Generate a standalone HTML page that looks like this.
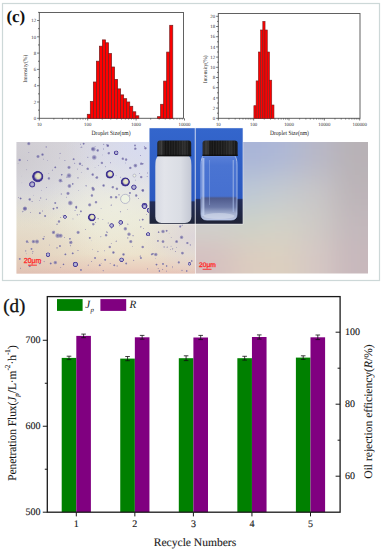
<!DOCTYPE html>
<html><head><meta charset="utf-8"><style>
html,body{margin:0;padding:0;background:#fff;}
body{width:383px;height:550px;overflow:hidden;font-family:"Liberation Serif",serif;}
svg{display:block;position:absolute;left:0;top:0;}
text{text-rendering:geometricPrecision;}
</style></head><body>
<svg width="383" height="550" viewBox="0 0 383 550">
<rect x="2.5" y="3.5" width="377" height="277" fill="none" stroke="#cdd8d8" stroke-width="1.2"/>
<text x="6.4" y="21.9" font-family="Liberation Serif" font-weight="bold" font-size="17" fill="#111">(c)</text>
<rect x="39.3" y="12.5" width="144.2" height="105.8" fill="none" stroke="#5a5a5a" stroke-width="0.95"/>
<rect x="87.3" y="114.3" width="3.03" height="4" fill="#ff0000" stroke="#7a2020" stroke-width="0.75"/>
<rect x="90.33" y="101.5" width="3.03" height="16.8" fill="#ff0000" stroke="#7a2020" stroke-width="0.75"/>
<rect x="93.36" y="82" width="3.03" height="36.3" fill="#ff0000" stroke="#7a2020" stroke-width="0.75"/>
<rect x="96.39" y="61.2" width="3.03" height="57.1" fill="#ff0000" stroke="#7a2020" stroke-width="0.75"/>
<rect x="99.42" y="46.2" width="3.03" height="72.1" fill="#ff0000" stroke="#7a2020" stroke-width="0.75"/>
<rect x="102.45" y="39.9" width="3.03" height="78.4" fill="#ff0000" stroke="#7a2020" stroke-width="0.75"/>
<rect x="105.48" y="42.8" width="3.03" height="75.5" fill="#ff0000" stroke="#7a2020" stroke-width="0.75"/>
<rect x="108.51" y="53.6" width="3.03" height="64.7" fill="#ff0000" stroke="#7a2020" stroke-width="0.75"/>
<rect x="111.54" y="67" width="3.03" height="51.3" fill="#ff0000" stroke="#7a2020" stroke-width="0.75"/>
<rect x="114.57" y="79.4" width="3.03" height="38.9" fill="#ff0000" stroke="#7a2020" stroke-width="0.75"/>
<rect x="117.6" y="88.9" width="3.03" height="29.4" fill="#ff0000" stroke="#7a2020" stroke-width="0.75"/>
<rect x="120.63" y="94.9" width="3.03" height="23.4" fill="#ff0000" stroke="#7a2020" stroke-width="0.75"/>
<rect x="123.66" y="98.7" width="3.03" height="19.6" fill="#ff0000" stroke="#7a2020" stroke-width="0.75"/>
<rect x="126.69" y="102" width="3.03" height="16.3" fill="#ff0000" stroke="#7a2020" stroke-width="0.75"/>
<rect x="129.72" y="106.3" width="3.03" height="12" fill="#ff0000" stroke="#7a2020" stroke-width="0.75"/>
<rect x="132.75" y="111.8" width="3.03" height="6.5" fill="#ff0000" stroke="#7a2020" stroke-width="0.75"/>
<rect x="135.78" y="115.8" width="3.03" height="2.5" fill="#ff0000" stroke="#7a2020" stroke-width="0.75"/>
<rect x="157.6" y="116.7" width="3.03" height="1.6" fill="#ff0000" stroke="#7a2020" stroke-width="0.75"/>
<rect x="160.63" y="104.3" width="3.03" height="14" fill="#ff0000" stroke="#7a2020" stroke-width="0.75"/>
<rect x="163.66" y="81.1" width="3.03" height="37.2" fill="#ff0000" stroke="#7a2020" stroke-width="0.75"/>
<rect x="166.69" y="52.1" width="3.03" height="66.2" fill="#ff0000" stroke="#7a2020" stroke-width="0.75"/>
<rect x="169.72" y="25.3" width="3.03" height="93" fill="#ff0000" stroke="#7a2020" stroke-width="0.75"/>
<line x1="37.1" y1="118.3" x2="39.3" y2="118.3" stroke="#3a3a3a" stroke-width="0.7"/>
<text x="36.1" y="120" font-family="Liberation Serif" font-size="4.8" text-anchor="end" fill="#333">0</text>
<line x1="38" y1="110.15" x2="39.3" y2="110.15" stroke="#3a3a3a" stroke-width="0.7"/>
<line x1="37.1" y1="102" x2="39.3" y2="102" stroke="#3a3a3a" stroke-width="0.7"/>
<text x="36.1" y="103.7" font-family="Liberation Serif" font-size="4.8" text-anchor="end" fill="#333">2</text>
<line x1="38" y1="93.85" x2="39.3" y2="93.85" stroke="#3a3a3a" stroke-width="0.7"/>
<line x1="37.1" y1="85.7" x2="39.3" y2="85.7" stroke="#3a3a3a" stroke-width="0.7"/>
<text x="36.1" y="87.4" font-family="Liberation Serif" font-size="4.8" text-anchor="end" fill="#333">4</text>
<line x1="38" y1="77.55" x2="39.3" y2="77.55" stroke="#3a3a3a" stroke-width="0.7"/>
<line x1="37.1" y1="69.4" x2="39.3" y2="69.4" stroke="#3a3a3a" stroke-width="0.7"/>
<text x="36.1" y="71.1" font-family="Liberation Serif" font-size="4.8" text-anchor="end" fill="#333">6</text>
<line x1="38" y1="61.25" x2="39.3" y2="61.25" stroke="#3a3a3a" stroke-width="0.7"/>
<line x1="37.1" y1="53.1" x2="39.3" y2="53.1" stroke="#3a3a3a" stroke-width="0.7"/>
<text x="36.1" y="54.8" font-family="Liberation Serif" font-size="4.8" text-anchor="end" fill="#333">8</text>
<line x1="38" y1="44.95" x2="39.3" y2="44.95" stroke="#3a3a3a" stroke-width="0.7"/>
<line x1="37.1" y1="36.8" x2="39.3" y2="36.8" stroke="#3a3a3a" stroke-width="0.7"/>
<text x="36.1" y="38.5" font-family="Liberation Serif" font-size="4.8" text-anchor="end" fill="#333">10</text>
<line x1="38" y1="28.65" x2="39.3" y2="28.65" stroke="#3a3a3a" stroke-width="0.7"/>
<line x1="37.1" y1="20.5" x2="39.3" y2="20.5" stroke="#3a3a3a" stroke-width="0.7"/>
<text x="36.1" y="22.2" font-family="Liberation Serif" font-size="4.8" text-anchor="end" fill="#333">12</text>
<line x1="38" y1="12.35" x2="39.3" y2="12.35" stroke="#3a3a3a" stroke-width="0.7"/>
<line x1="39.3" y1="118.3" x2="39.3" y2="120.5" stroke="#3a3a3a" stroke-width="0.7"/>
<text x="39.3" y="125.5" font-family="Liberation Serif" font-size="4.8" text-anchor="middle" fill="#333">10</text>
<line x1="53.87" y1="118.3" x2="53.87" y2="119.6" stroke="#3a3a3a" stroke-width="0.6"/>
<line x1="62.39" y1="118.3" x2="62.39" y2="119.6" stroke="#3a3a3a" stroke-width="0.6"/>
<line x1="68.44" y1="118.3" x2="68.44" y2="119.6" stroke="#3a3a3a" stroke-width="0.6"/>
<line x1="73.13" y1="118.3" x2="73.13" y2="119.6" stroke="#3a3a3a" stroke-width="0.6"/>
<line x1="76.96" y1="118.3" x2="76.96" y2="119.6" stroke="#3a3a3a" stroke-width="0.6"/>
<line x1="80.2" y1="118.3" x2="80.2" y2="119.6" stroke="#3a3a3a" stroke-width="0.6"/>
<line x1="83.01" y1="118.3" x2="83.01" y2="119.6" stroke="#3a3a3a" stroke-width="0.6"/>
<line x1="85.49" y1="118.3" x2="85.49" y2="119.6" stroke="#3a3a3a" stroke-width="0.6"/>
<line x1="87.7" y1="118.3" x2="87.7" y2="120.5" stroke="#3a3a3a" stroke-width="0.7"/>
<text x="87.7" y="125.5" font-family="Liberation Serif" font-size="4.8" text-anchor="middle" fill="#333">100</text>
<line x1="102.27" y1="118.3" x2="102.27" y2="119.6" stroke="#3a3a3a" stroke-width="0.6"/>
<line x1="110.79" y1="118.3" x2="110.79" y2="119.6" stroke="#3a3a3a" stroke-width="0.6"/>
<line x1="116.84" y1="118.3" x2="116.84" y2="119.6" stroke="#3a3a3a" stroke-width="0.6"/>
<line x1="121.53" y1="118.3" x2="121.53" y2="119.6" stroke="#3a3a3a" stroke-width="0.6"/>
<line x1="125.36" y1="118.3" x2="125.36" y2="119.6" stroke="#3a3a3a" stroke-width="0.6"/>
<line x1="128.6" y1="118.3" x2="128.6" y2="119.6" stroke="#3a3a3a" stroke-width="0.6"/>
<line x1="131.41" y1="118.3" x2="131.41" y2="119.6" stroke="#3a3a3a" stroke-width="0.6"/>
<line x1="133.89" y1="118.3" x2="133.89" y2="119.6" stroke="#3a3a3a" stroke-width="0.6"/>
<line x1="136.1" y1="118.3" x2="136.1" y2="120.5" stroke="#3a3a3a" stroke-width="0.7"/>
<text x="136.1" y="125.5" font-family="Liberation Serif" font-size="4.8" text-anchor="middle" fill="#333">1000</text>
<line x1="150.67" y1="118.3" x2="150.67" y2="119.6" stroke="#3a3a3a" stroke-width="0.6"/>
<line x1="159.19" y1="118.3" x2="159.19" y2="119.6" stroke="#3a3a3a" stroke-width="0.6"/>
<line x1="165.24" y1="118.3" x2="165.24" y2="119.6" stroke="#3a3a3a" stroke-width="0.6"/>
<line x1="169.93" y1="118.3" x2="169.93" y2="119.6" stroke="#3a3a3a" stroke-width="0.6"/>
<line x1="173.76" y1="118.3" x2="173.76" y2="119.6" stroke="#3a3a3a" stroke-width="0.6"/>
<line x1="177" y1="118.3" x2="177" y2="119.6" stroke="#3a3a3a" stroke-width="0.6"/>
<line x1="179.81" y1="118.3" x2="179.81" y2="119.6" stroke="#3a3a3a" stroke-width="0.6"/>
<line x1="182.29" y1="118.3" x2="182.29" y2="119.6" stroke="#3a3a3a" stroke-width="0.6"/>
<line x1="184.5" y1="118.3" x2="184.5" y2="120.5" stroke="#3a3a3a" stroke-width="0.7"/>
<text x="184.5" y="125.5" font-family="Liberation Serif" font-size="4.8" text-anchor="middle" fill="#333">10000</text>
<text transform="translate(27.4,68.7) rotate(-90)" textLength="28" lengthAdjust="spacingAndGlyphs" font-family="Liberation Serif" font-size="5.6" text-anchor="middle" fill="#2a2a2a">Intensity(%)</text>
<text x="111" y="134.5" textLength="39" lengthAdjust="spacingAndGlyphs" font-family="Liberation Serif" font-size="6.4" text-anchor="middle" fill="#1a1a1a">Droplet Size(nm)</text>
<rect x="218.3" y="13.5" width="141.7" height="104.8" fill="none" stroke="#5a5a5a" stroke-width="0.95"/>
<rect x="253.9" y="105.7" width="2.23" height="12.6" fill="#ff0000" stroke="#7a2020" stroke-width="0.6"/>
<rect x="256.13" y="80.9" width="2.23" height="37.4" fill="#ff0000" stroke="#7a2020" stroke-width="0.6"/>
<rect x="258.36" y="52" width="2.23" height="66.3" fill="#ff0000" stroke="#7a2020" stroke-width="0.6"/>
<rect x="260.59" y="30" width="2.23" height="88.3" fill="#ff0000" stroke="#7a2020" stroke-width="0.6"/>
<rect x="262.82" y="21.4" width="2.23" height="96.9" fill="#ff0000" stroke="#7a2020" stroke-width="0.6"/>
<rect x="265.05" y="30" width="2.23" height="88.3" fill="#ff0000" stroke="#7a2020" stroke-width="0.6"/>
<rect x="267.28" y="52" width="2.23" height="66.3" fill="#ff0000" stroke="#7a2020" stroke-width="0.6"/>
<rect x="269.51" y="80.2" width="2.23" height="38.1" fill="#ff0000" stroke="#7a2020" stroke-width="0.6"/>
<rect x="271.74" y="105" width="2.23" height="13.3" fill="#ff0000" stroke="#7a2020" stroke-width="0.6"/>
<line x1="216.1" y1="118.3" x2="218.3" y2="118.3" stroke="#3a3a3a" stroke-width="0.7"/>
<text x="215.1" y="120" font-family="Liberation Serif" font-size="4.8" text-anchor="end" fill="#333">0</text>
<line x1="217" y1="113.2" x2="218.3" y2="113.2" stroke="#3a3a3a" stroke-width="0.7"/>
<line x1="216.1" y1="108.1" x2="218.3" y2="108.1" stroke="#3a3a3a" stroke-width="0.7"/>
<text x="215.1" y="109.8" font-family="Liberation Serif" font-size="4.8" text-anchor="end" fill="#333">2</text>
<line x1="217" y1="103" x2="218.3" y2="103" stroke="#3a3a3a" stroke-width="0.7"/>
<line x1="216.1" y1="97.9" x2="218.3" y2="97.9" stroke="#3a3a3a" stroke-width="0.7"/>
<text x="215.1" y="99.6" font-family="Liberation Serif" font-size="4.8" text-anchor="end" fill="#333">4</text>
<line x1="217" y1="92.8" x2="218.3" y2="92.8" stroke="#3a3a3a" stroke-width="0.7"/>
<line x1="216.1" y1="87.7" x2="218.3" y2="87.7" stroke="#3a3a3a" stroke-width="0.7"/>
<text x="215.1" y="89.4" font-family="Liberation Serif" font-size="4.8" text-anchor="end" fill="#333">6</text>
<line x1="217" y1="82.6" x2="218.3" y2="82.6" stroke="#3a3a3a" stroke-width="0.7"/>
<line x1="216.1" y1="77.5" x2="218.3" y2="77.5" stroke="#3a3a3a" stroke-width="0.7"/>
<text x="215.1" y="79.2" font-family="Liberation Serif" font-size="4.8" text-anchor="end" fill="#333">8</text>
<line x1="217" y1="72.4" x2="218.3" y2="72.4" stroke="#3a3a3a" stroke-width="0.7"/>
<line x1="216.1" y1="67.3" x2="218.3" y2="67.3" stroke="#3a3a3a" stroke-width="0.7"/>
<text x="215.1" y="69" font-family="Liberation Serif" font-size="4.8" text-anchor="end" fill="#333">10</text>
<line x1="217" y1="62.2" x2="218.3" y2="62.2" stroke="#3a3a3a" stroke-width="0.7"/>
<line x1="216.1" y1="57.1" x2="218.3" y2="57.1" stroke="#3a3a3a" stroke-width="0.7"/>
<text x="215.1" y="58.8" font-family="Liberation Serif" font-size="4.8" text-anchor="end" fill="#333">12</text>
<line x1="217" y1="52" x2="218.3" y2="52" stroke="#3a3a3a" stroke-width="0.7"/>
<line x1="216.1" y1="46.9" x2="218.3" y2="46.9" stroke="#3a3a3a" stroke-width="0.7"/>
<text x="215.1" y="48.6" font-family="Liberation Serif" font-size="4.8" text-anchor="end" fill="#333">14</text>
<line x1="217" y1="41.8" x2="218.3" y2="41.8" stroke="#3a3a3a" stroke-width="0.7"/>
<line x1="216.1" y1="36.7" x2="218.3" y2="36.7" stroke="#3a3a3a" stroke-width="0.7"/>
<text x="215.1" y="38.4" font-family="Liberation Serif" font-size="4.8" text-anchor="end" fill="#333">16</text>
<line x1="217" y1="31.6" x2="218.3" y2="31.6" stroke="#3a3a3a" stroke-width="0.7"/>
<line x1="216.1" y1="26.5" x2="218.3" y2="26.5" stroke="#3a3a3a" stroke-width="0.7"/>
<text x="215.1" y="28.2" font-family="Liberation Serif" font-size="4.8" text-anchor="end" fill="#333">18</text>
<line x1="217" y1="21.4" x2="218.3" y2="21.4" stroke="#3a3a3a" stroke-width="0.7"/>
<line x1="216.1" y1="16.3" x2="218.3" y2="16.3" stroke="#3a3a3a" stroke-width="0.7"/>
<text x="215.1" y="18" font-family="Liberation Serif" font-size="4.8" text-anchor="end" fill="#333">20</text>
<line x1="218.3" y1="118.3" x2="218.3" y2="120.5" stroke="#3a3a3a" stroke-width="0.7"/>
<text x="218.3" y="125.5" font-family="Liberation Serif" font-size="4.8" text-anchor="middle" fill="#333">10</text>
<line x1="228.94" y1="118.3" x2="228.94" y2="119.6" stroke="#3a3a3a" stroke-width="0.6"/>
<line x1="235.17" y1="118.3" x2="235.17" y2="119.6" stroke="#3a3a3a" stroke-width="0.6"/>
<line x1="239.58" y1="118.3" x2="239.58" y2="119.6" stroke="#3a3a3a" stroke-width="0.6"/>
<line x1="243.01" y1="118.3" x2="243.01" y2="119.6" stroke="#3a3a3a" stroke-width="0.6"/>
<line x1="245.81" y1="118.3" x2="245.81" y2="119.6" stroke="#3a3a3a" stroke-width="0.6"/>
<line x1="248.17" y1="118.3" x2="248.17" y2="119.6" stroke="#3a3a3a" stroke-width="0.6"/>
<line x1="250.22" y1="118.3" x2="250.22" y2="119.6" stroke="#3a3a3a" stroke-width="0.6"/>
<line x1="252.03" y1="118.3" x2="252.03" y2="119.6" stroke="#3a3a3a" stroke-width="0.6"/>
<line x1="253.65" y1="118.3" x2="253.65" y2="120.5" stroke="#3a3a3a" stroke-width="0.7"/>
<text x="253.65" y="125.5" font-family="Liberation Serif" font-size="4.8" text-anchor="middle" fill="#333">100</text>
<line x1="264.29" y1="118.3" x2="264.29" y2="119.6" stroke="#3a3a3a" stroke-width="0.6"/>
<line x1="270.52" y1="118.3" x2="270.52" y2="119.6" stroke="#3a3a3a" stroke-width="0.6"/>
<line x1="274.93" y1="118.3" x2="274.93" y2="119.6" stroke="#3a3a3a" stroke-width="0.6"/>
<line x1="278.36" y1="118.3" x2="278.36" y2="119.6" stroke="#3a3a3a" stroke-width="0.6"/>
<line x1="281.16" y1="118.3" x2="281.16" y2="119.6" stroke="#3a3a3a" stroke-width="0.6"/>
<line x1="283.52" y1="118.3" x2="283.52" y2="119.6" stroke="#3a3a3a" stroke-width="0.6"/>
<line x1="285.57" y1="118.3" x2="285.57" y2="119.6" stroke="#3a3a3a" stroke-width="0.6"/>
<line x1="287.38" y1="118.3" x2="287.38" y2="119.6" stroke="#3a3a3a" stroke-width="0.6"/>
<line x1="289" y1="118.3" x2="289" y2="120.5" stroke="#3a3a3a" stroke-width="0.7"/>
<text x="289" y="125.5" font-family="Liberation Serif" font-size="4.8" text-anchor="middle" fill="#333">1000</text>
<line x1="299.64" y1="118.3" x2="299.64" y2="119.6" stroke="#3a3a3a" stroke-width="0.6"/>
<line x1="305.87" y1="118.3" x2="305.87" y2="119.6" stroke="#3a3a3a" stroke-width="0.6"/>
<line x1="310.28" y1="118.3" x2="310.28" y2="119.6" stroke="#3a3a3a" stroke-width="0.6"/>
<line x1="313.71" y1="118.3" x2="313.71" y2="119.6" stroke="#3a3a3a" stroke-width="0.6"/>
<line x1="316.51" y1="118.3" x2="316.51" y2="119.6" stroke="#3a3a3a" stroke-width="0.6"/>
<line x1="318.87" y1="118.3" x2="318.87" y2="119.6" stroke="#3a3a3a" stroke-width="0.6"/>
<line x1="320.92" y1="118.3" x2="320.92" y2="119.6" stroke="#3a3a3a" stroke-width="0.6"/>
<line x1="322.73" y1="118.3" x2="322.73" y2="119.6" stroke="#3a3a3a" stroke-width="0.6"/>
<line x1="324.35" y1="118.3" x2="324.35" y2="120.5" stroke="#3a3a3a" stroke-width="0.7"/>
<text x="324.35" y="125.5" font-family="Liberation Serif" font-size="4.8" text-anchor="middle" fill="#333">10000</text>
<line x1="334.99" y1="118.3" x2="334.99" y2="119.6" stroke="#3a3a3a" stroke-width="0.6"/>
<line x1="341.22" y1="118.3" x2="341.22" y2="119.6" stroke="#3a3a3a" stroke-width="0.6"/>
<line x1="345.63" y1="118.3" x2="345.63" y2="119.6" stroke="#3a3a3a" stroke-width="0.6"/>
<line x1="349.06" y1="118.3" x2="349.06" y2="119.6" stroke="#3a3a3a" stroke-width="0.6"/>
<line x1="351.86" y1="118.3" x2="351.86" y2="119.6" stroke="#3a3a3a" stroke-width="0.6"/>
<line x1="354.22" y1="118.3" x2="354.22" y2="119.6" stroke="#3a3a3a" stroke-width="0.6"/>
<line x1="356.27" y1="118.3" x2="356.27" y2="119.6" stroke="#3a3a3a" stroke-width="0.6"/>
<line x1="358.08" y1="118.3" x2="358.08" y2="119.6" stroke="#3a3a3a" stroke-width="0.6"/>
<line x1="359.7" y1="118.3" x2="359.7" y2="120.5" stroke="#3a3a3a" stroke-width="0.7"/>
<text x="359.7" y="125.5" font-family="Liberation Serif" font-size="4.8" text-anchor="middle" fill="#333">100000</text>
<text transform="translate(207,69.3) rotate(-90)" textLength="28" lengthAdjust="spacingAndGlyphs" font-family="Liberation Serif" font-size="5.6" text-anchor="middle" fill="#2a2a2a">Intensity(%)</text>
<text x="289.4" y="134.5" textLength="39" lengthAdjust="spacingAndGlyphs" font-family="Liberation Serif" font-size="6.4" text-anchor="middle" fill="#1a1a1a">Droplet Size(nm)</text>
<defs>
<linearGradient id="lgL" x1="0" y1="0" x2="0" y2="1">
<stop offset="0" stop-color="#dad8de"/><stop offset="0.35" stop-color="#e0e0e4"/><stop offset="0.6" stop-color="#e9e7d6"/><stop offset="0.85" stop-color="#ece2cc"/><stop offset="0.96" stop-color="#eacfbe"/><stop offset="1" stop-color="#e6c4b8"/></linearGradient>
<radialGradient id="lgL5" cx="0.72" cy="0" r="0.45"><stop offset="0" stop-color="#d6dcf6" stop-opacity="0.8"/><stop offset="1" stop-color="#d6dcf6" stop-opacity="0"/></radialGradient>
<radialGradient id="lgL6" cx="1" cy="0.72" r="0.3"><stop offset="0" stop-color="#d8d0dc" stop-opacity="0.75"/><stop offset="1" stop-color="#d8d0dc" stop-opacity="0"/></radialGradient>
<radialGradient id="md" cx="0.5" cy="0.5" r="0.5"><stop offset="0" stop-color="#c4c4d8"/><stop offset="0.45" stop-color="#a4a2cc"/><stop offset="0.7" stop-color="#463a94"/><stop offset="0.88" stop-color="#5448a0" stop-opacity="0.7"/><stop offset="1" stop-color="#6a66b0" stop-opacity="0"/></radialGradient>
<radialGradient id="lgL2" cx="0" cy="0.15" r="0.5"><stop offset="0" stop-color="#c2bec4" stop-opacity="0.55"/><stop offset="1" stop-color="#c2bec4" stop-opacity="0"/></radialGradient>
<radialGradient id="lgL3" cx="0.0" cy="0.9" r="0.5"><stop offset="0" stop-color="#d8bcac" stop-opacity="0.45"/><stop offset="1" stop-color="#d0b8ac" stop-opacity="0"/></radialGradient>
<radialGradient id="lgL4" cx="0.55" cy="0.5" r="0.4"><stop offset="0" stop-color="#f0f0e0" stop-opacity="0.7"/><stop offset="1" stop-color="#f0f0e0" stop-opacity="0"/></radialGradient>
<linearGradient id="lgR" x1="0" y1="0" x2="0" y2="1">
<stop offset="0" stop-color="#aeb6d2"/><stop offset="0.35" stop-color="#c2c8d2"/><stop offset="0.65" stop-color="#cccec8"/><stop offset="1" stop-color="#d8c4b8"/></linearGradient>
<linearGradient id="lgR2" x1="0" y1="0" x2="1" y2="0">
<stop offset="0" stop-color="#ffffff" stop-opacity="0"/><stop offset="0.45" stop-color="#ffffff" stop-opacity="0"/><stop offset="1" stop-color="#b6a8ac" stop-opacity="0.8"/></linearGradient>
<radialGradient id="lgR3" cx="0.3" cy="0.55" r="0.4"><stop offset="0" stop-color="#d4dad0" stop-opacity="0.6"/><stop offset="1" stop-color="#d4dad0" stop-opacity="0"/></radialGradient>
<radialGradient id="sd" cx="0.5" cy="0.5" r="0.5"><stop offset="0" stop-color="#5c5298" stop-opacity="0.85"/><stop offset="0.6" stop-color="#7c78ae" stop-opacity="0.6"/><stop offset="1" stop-color="#9490ba" stop-opacity="0"/></radialGradient>
<radialGradient id="bd" cx="0.5" cy="0.5" r="0.5" fx="0.58" fy="0.42"><stop offset="0" stop-color="#ecead0"/><stop offset="0.45" stop-color="#dedcb8"/><stop offset="0.58" stop-color="#8a7eb8"/><stop offset="0.74" stop-color="#33287e"/><stop offset="0.9" stop-color="#4a3e9c"/><stop offset="1" stop-color="#5a54a8" stop-opacity="0.3"/></radialGradient>
<linearGradient id="blueL" x1="0" y1="0" x2="0" y2="1"><stop offset="0" stop-color="#3466cc"/><stop offset="0.755" stop-color="#2a58c0"/><stop offset="0.772" stop-color="#222c58"/><stop offset="1" stop-color="#1e2438"/></linearGradient>
<linearGradient id="blueR" x1="0" y1="0" x2="0" y2="1"><stop offset="0" stop-color="#3466cc"/><stop offset="0.733" stop-color="#2a58c0"/><stop offset="0.748" stop-color="#222c58"/><stop offset="1" stop-color="#1e2236"/></linearGradient>
<linearGradient id="milk" x1="0" y1="0" x2="1" y2="0"><stop offset="0" stop-color="#d6d9e2"/><stop offset="0.25" stop-color="#e2e4ea"/><stop offset="0.7" stop-color="#dadde4"/><stop offset="1" stop-color="#c4c8d4"/></linearGradient>
<linearGradient id="cap" x1="0" y1="0" x2="1" y2="0"><stop offset="0" stop-color="#202020"/><stop offset="0.12" stop-color="#3a3a3a"/><stop offset="0.22" stop-color="#151515"/><stop offset="0.6" stop-color="#1c1c1c"/><stop offset="0.8" stop-color="#2c2c2c"/><stop offset="1" stop-color="#101010"/></linearGradient>
<linearGradient id="clear" x1="0" y1="0" x2="0" y2="1"><stop offset="0" stop-color="#5a80d8"/><stop offset="0.15" stop-color="#4a74d2"/><stop offset="0.63" stop-color="#4670d0"/><stop offset="0.66" stop-color="#4e5a8c"/><stop offset="0.8" stop-color="#6a78a8"/><stop offset="0.9" stop-color="#a4b0d0"/><stop offset="1" stop-color="#bcc6e0"/></linearGradient>
<radialGradient id="lgR4" cx="1" cy="0" r="0.5"><stop offset="0" stop-color="#b4aca4" stop-opacity="0.7"/><stop offset="1" stop-color="#b4aca4" stop-opacity="0"/></radialGradient>
<pattern id="ridge" x="0" y="0" width="2.6" height="20" patternUnits="userSpaceOnUse"><rect x="0" y="0" width="0.8" height="20" fill="#6a6a6a" opacity="0.2"/></pattern>
</defs>
<rect x="16.5" y="142" width="178.7" height="131.6" fill="url(#lgL)"/>
<rect x="16.5" y="142" width="178.7" height="131.6" fill="url(#lgL2)"/>
<rect x="16.5" y="142" width="178.7" height="131.6" fill="url(#lgL3)"/>
<rect x="16.5" y="142" width="178.7" height="131.6" fill="url(#lgL4)"/>
<rect x="16.5" y="142" width="178.7" height="131.6" fill="url(#lgL5)"/>
<rect x="16.5" y="142" width="178.7" height="131.6" fill="url(#lgL6)"/>
<clipPath id="clipR"><rect x="195.8" y="142" width="172.2" height="131.6"/></clipPath>
<filter id="blurR" x="-20%" y="-20%" width="140%" height="140%"><feGaussianBlur stdDeviation="14"/></filter>
<g clip-path="url(#clipR)"><g filter="url(#blurR)">
<rect x="161.36" y="109.1" width="34.94" height="33.4" fill="#b4bcd6"/>
<rect x="195.8" y="109.1" width="34.94" height="33.4" fill="#b4bcd6"/>
<rect x="230.24" y="109.1" width="34.94" height="33.4" fill="#a8b4d8"/>
<rect x="264.68" y="109.1" width="34.94" height="33.4" fill="#aeb8d6"/>
<rect x="299.12" y="109.1" width="34.94" height="33.4" fill="#b8b8c8"/>
<rect x="333.56" y="109.1" width="34.94" height="33.4" fill="#b8b2b6"/>
<rect x="368" y="109.1" width="34.94" height="33.4" fill="#b8b2b6"/>
<rect x="161.36" y="142" width="34.94" height="33.4" fill="#b4bcd6"/>
<rect x="195.8" y="142" width="34.94" height="33.4" fill="#b4bcd6"/>
<rect x="230.24" y="142" width="34.94" height="33.4" fill="#a8b4d8"/>
<rect x="264.68" y="142" width="34.94" height="33.4" fill="#aeb8d6"/>
<rect x="299.12" y="142" width="34.94" height="33.4" fill="#b8b8c8"/>
<rect x="333.56" y="142" width="34.94" height="33.4" fill="#b8b2b6"/>
<rect x="368" y="142" width="34.94" height="33.4" fill="#b8b2b6"/>
<rect x="161.36" y="174.9" width="34.94" height="33.4" fill="#c0c8d8"/>
<rect x="195.8" y="174.9" width="34.94" height="33.4" fill="#c0c8d8"/>
<rect x="230.24" y="174.9" width="34.94" height="33.4" fill="#bcc8d6"/>
<rect x="264.68" y="174.9" width="34.94" height="33.4" fill="#c4cad0"/>
<rect x="299.12" y="174.9" width="34.94" height="33.4" fill="#c8c6c8"/>
<rect x="333.56" y="174.9" width="34.94" height="33.4" fill="#bcb4b8"/>
<rect x="368" y="174.9" width="34.94" height="33.4" fill="#bcb4b8"/>
<rect x="161.36" y="207.8" width="34.94" height="33.4" fill="#d0d2cc"/>
<rect x="195.8" y="207.8" width="34.94" height="33.4" fill="#d0d2cc"/>
<rect x="230.24" y="207.8" width="34.94" height="33.4" fill="#ccd2c8"/>
<rect x="264.68" y="207.8" width="34.94" height="33.4" fill="#d2d2c8"/>
<rect x="299.12" y="207.8" width="34.94" height="33.4" fill="#cecac6"/>
<rect x="333.56" y="207.8" width="34.94" height="33.4" fill="#c2b8bc"/>
<rect x="368" y="207.8" width="34.94" height="33.4" fill="#c2b8bc"/>
<rect x="161.36" y="240.7" width="34.94" height="33.4" fill="#d6c0c0"/>
<rect x="195.8" y="240.7" width="34.94" height="33.4" fill="#d6c0c0"/>
<rect x="230.24" y="240.7" width="34.94" height="33.4" fill="#dcccc0"/>
<rect x="264.68" y="240.7" width="34.94" height="33.4" fill="#dcd0c0"/>
<rect x="299.12" y="240.7" width="34.94" height="33.4" fill="#d6c8c4"/>
<rect x="333.56" y="240.7" width="34.94" height="33.4" fill="#c8b8bc"/>
<rect x="368" y="240.7" width="34.94" height="33.4" fill="#c8b8bc"/>
<rect x="161.36" y="273.6" width="34.94" height="33.4" fill="#d6c0c0"/>
<rect x="195.8" y="273.6" width="34.94" height="33.4" fill="#d6c0c0"/>
<rect x="230.24" y="273.6" width="34.94" height="33.4" fill="#dcccc0"/>
<rect x="264.68" y="273.6" width="34.94" height="33.4" fill="#dcd0c0"/>
<rect x="299.12" y="273.6" width="34.94" height="33.4" fill="#d6c8c4"/>
<rect x="333.56" y="273.6" width="34.94" height="33.4" fill="#c8b8bc"/>
<rect x="368" y="273.6" width="34.94" height="33.4" fill="#c8b8bc"/>
</g></g>
<filter id="soft" x="-5%" y="-5%" width="110%" height="110%"><feGaussianBlur stdDeviation="0.35"/></filter><g filter="url(#soft)">
<circle cx="37.7" cy="176.6" r="5.83" fill="url(#bd)"/>
<circle cx="32.2" cy="184.4" r="3.45" fill="url(#md)"/>
<circle cx="69" cy="175.6" r="2.88" fill="url(#sd)"/>
<circle cx="60.4" cy="180.6" r="2.4" fill="url(#sd)"/>
<circle cx="69" cy="167.4" r="2.08" fill="url(#sd)"/>
<circle cx="69.4" cy="186" r="2.4" fill="url(#sd)"/>
<circle cx="70.3" cy="203" r="2.88" fill="url(#sd)"/>
<circle cx="68" cy="193.4" r="2.08" fill="url(#sd)"/>
<circle cx="38" cy="156.5" r="2.08" fill="url(#sd)"/>
<circle cx="42.5" cy="154.6" r="1.76" fill="url(#sd)"/>
<circle cx="28.8" cy="143.7" r="2.08" fill="url(#sd)"/>
<circle cx="19.7" cy="160" r="1.76" fill="url(#sd)"/>
<circle cx="55.3" cy="167.4" r="1.44" fill="url(#sd)"/>
<circle cx="48.9" cy="178.4" r="1.76" fill="url(#sd)"/>
<circle cx="25.1" cy="208.5" r="2.4" fill="url(#sd)"/>
<circle cx="29.7" cy="199.4" r="1.76" fill="url(#sd)"/>
<circle cx="20.6" cy="198.5" r="1.44" fill="url(#sd)"/>
<circle cx="80" cy="163.8" r="1.76" fill="url(#sd)"/>
<circle cx="73.6" cy="159.2" r="1.44" fill="url(#sd)"/>
<circle cx="83.6" cy="143.7" r="1.44" fill="url(#sd)"/>
<circle cx="55.3" cy="203" r="1.44" fill="url(#sd)"/>
<circle cx="76.3" cy="206.7" r="1.44" fill="url(#sd)"/>
<circle cx="61.7" cy="174.7" r="1.28" fill="url(#sd)"/>
<circle cx="72.7" cy="183.9" r="1.28" fill="url(#sd)"/>
<circle cx="109.8" cy="174.4" r="4.32" fill="url(#bd)"/>
<circle cx="125.3" cy="182" r="4.75" fill="url(#bd)"/>
<circle cx="125.2" cy="198.9" r="4.6" fill="#eef2e2" stroke="#b4b4c8" stroke-width="0.9"/>
<circle cx="133.9" cy="187.2" r="2.99" fill="url(#md)"/>
<circle cx="144.5" cy="205.8" r="3.33" fill="url(#md)"/>
<circle cx="116.2" cy="152.8" r="2.53" fill="url(#md)"/>
<circle cx="93.3" cy="149.1" r="2.88" fill="url(#sd)"/>
<circle cx="94.2" cy="157.4" r="2.88" fill="url(#sd)"/>
<circle cx="108.8" cy="153.2" r="1.76" fill="url(#sd)"/>
<circle cx="135.4" cy="165.6" r="2.4" fill="url(#sd)"/>
<circle cx="145.4" cy="148.2" r="1.76" fill="url(#sd)"/>
<circle cx="135" cy="145.5" r="1.44" fill="url(#sd)"/>
<circle cx="107.9" cy="145.5" r="1.44" fill="url(#sd)"/>
<circle cx="93.3" cy="189.3" r="2.08" fill="url(#sd)"/>
<circle cx="97" cy="177.5" r="1.76" fill="url(#sd)"/>
<circle cx="89.7" cy="204.9" r="2.08" fill="url(#sd)"/>
<circle cx="134.4" cy="175.6" r="1.5" fill="#eef2e2" stroke="#b4b4c8" stroke-width="0.9"/>
<circle cx="142.7" cy="190.3" r="1.76" fill="url(#sd)"/>
<circle cx="129.9" cy="193" r="1.44" fill="url(#sd)"/>
<circle cx="142.7" cy="163.8" r="1.28" fill="url(#sd)"/>
<circle cx="75.4" cy="264.4" r="2.99" fill="url(#md)"/>
<circle cx="48" cy="254.7" r="2.53" fill="url(#md)"/>
<circle cx="57.7" cy="235.7" r="2.88" fill="url(#sd)"/>
<circle cx="60.6" cy="235.7" r="2.56" fill="url(#sd)"/>
<circle cx="65" cy="216.9" r="2.07" fill="url(#md)"/>
<circle cx="24.8" cy="208.7" r="2.56" fill="url(#sd)"/>
<circle cx="37" cy="241.6" r="2.56" fill="url(#sd)"/>
<circle cx="33.4" cy="241.6" r="2.24" fill="url(#sd)"/>
<circle cx="27" cy="241.6" r="1.76" fill="url(#sd)"/>
<circle cx="53.5" cy="232.4" r="2.24" fill="url(#sd)"/>
<circle cx="70.8" cy="242.5" r="2.24" fill="url(#sd)"/>
<circle cx="78.1" cy="232.4" r="2.08" fill="url(#sd)"/>
<circle cx="55.3" cy="262.6" r="2.24" fill="url(#sd)"/>
<circle cx="59" cy="221.5" r="1.76" fill="url(#sd)"/>
<circle cx="31.5" cy="248.9" r="1.44" fill="url(#sd)"/>
<circle cx="43.4" cy="238.8" r="1.44" fill="url(#sd)"/>
<circle cx="39.8" cy="213.2" r="1.44" fill="url(#sd)"/>
<circle cx="45.2" cy="216" r="1.44" fill="url(#sd)"/>
<circle cx="53.5" cy="208.7" r="1.44" fill="url(#sd)"/>
<circle cx="57.1" cy="207.7" r="1.44" fill="url(#sd)"/>
<circle cx="76.3" cy="207.7" r="1.44" fill="url(#sd)"/>
<circle cx="80.9" cy="211.4" r="1.44" fill="url(#sd)"/>
<circle cx="69.9" cy="238.8" r="1.28" fill="url(#sd)"/>
<circle cx="59.9" cy="246.1" r="1.44" fill="url(#sd)"/>
<circle cx="65.4" cy="254.4" r="1.44" fill="url(#sd)"/>
<circle cx="72.7" cy="253.4" r="1.44" fill="url(#sd)"/>
<circle cx="19.7" cy="258.9" r="1.44" fill="url(#sd)"/>
<circle cx="29.7" cy="266.2" r="1.44" fill="url(#sd)"/>
<circle cx="39.8" cy="263.5" r="1.28" fill="url(#sd)"/>
<circle cx="50.7" cy="263.5" r="1.44" fill="url(#sd)"/>
<circle cx="63.5" cy="264.4" r="1.28" fill="url(#sd)"/>
<circle cx="80.9" cy="269.9" r="1.44" fill="url(#sd)"/>
<circle cx="91.8" cy="217.4" r="4" fill="url(#bd)"/>
<circle cx="111.6" cy="225.5" r="2.53" fill="url(#md)"/>
<circle cx="120.7" cy="222.4" r="2.53" fill="url(#md)"/>
<circle cx="148.1" cy="234.2" r="2.3" fill="url(#md)"/>
<circle cx="144.5" cy="206.5" r="2.76" fill="url(#md)"/>
<circle cx="121.6" cy="259.8" r="2.53" fill="url(#md)"/>
<circle cx="125.3" cy="228.8" r="2.24" fill="url(#sd)"/>
<circle cx="129" cy="234.2" r="2.24" fill="url(#sd)"/>
<circle cx="130.8" cy="241.6" r="2.08" fill="url(#sd)"/>
<circle cx="93.3" cy="224.2" r="1.76" fill="url(#sd)"/>
<circle cx="106.1" cy="235.2" r="1.76" fill="url(#sd)"/>
<circle cx="109.8" cy="247" r="1.76" fill="url(#sd)"/>
<circle cx="113.4" cy="252.5" r="1.76" fill="url(#sd)"/>
<circle cx="123.5" cy="254.4" r="1.76" fill="url(#sd)"/>
<circle cx="95.1" cy="258" r="1.44" fill="url(#sd)"/>
<circle cx="99.7" cy="265.3" r="1.44" fill="url(#sd)"/>
<circle cx="105.2" cy="259.8" r="1.44" fill="url(#sd)"/>
<circle cx="114.3" cy="265.3" r="1.44" fill="url(#sd)"/>
<circle cx="126.2" cy="263.5" r="1.44" fill="url(#sd)"/>
<circle cx="142.7" cy="247" r="1.76" fill="url(#sd)"/>
<circle cx="140.8" cy="258" r="1.44" fill="url(#sd)"/>
<circle cx="151.8" cy="254.4" r="1.44" fill="url(#sd)"/>
<circle cx="89.7" cy="237.9" r="1.44" fill="url(#sd)"/>
<circle cx="142.7" cy="219.6" r="1.44" fill="url(#sd)"/>
<circle cx="92.7" cy="149" r="1.76" fill="url(#sd)"/>
<circle cx="97.7" cy="150.4" r="1.76" fill="url(#sd)"/>
<circle cx="101.9" cy="162.9" r="1.76" fill="url(#sd)"/>
<circle cx="107.7" cy="145.7" r="1.76" fill="url(#sd)"/>
<circle cx="122.8" cy="158.7" r="1.76" fill="url(#sd)"/>
<circle cx="126.1" cy="159.6" r="1.76" fill="url(#sd)"/>
<circle cx="141.2" cy="163.7" r="1.76" fill="url(#sd)"/>
<circle cx="135.3" cy="148.7" r="1.76" fill="url(#sd)"/>
<circle cx="87.7" cy="168.8" r="1.76" fill="url(#sd)"/>
<circle cx="92.7" cy="174.6" r="1.76" fill="url(#sd)"/>
<circle cx="92.7" cy="188" r="1.76" fill="url(#sd)"/>
<circle cx="91.9" cy="195.5" r="1.76" fill="url(#sd)"/>
<circle cx="103.6" cy="185.5" r="1.76" fill="url(#sd)"/>
<circle cx="112.8" cy="187.2" r="1.76" fill="url(#sd)"/>
<circle cx="116.9" cy="188.8" r="1.76" fill="url(#sd)"/>
<circle cx="141.2" cy="177.1" r="1.76" fill="url(#sd)"/>
<circle cx="136.2" cy="195.5" r="1.76" fill="url(#sd)"/>
<circle cx="142.9" cy="190.5" r="1.76" fill="url(#sd)"/>
<circle cx="130.3" cy="167.9" r="1.76" fill="url(#sd)"/>
<circle cx="111.1" cy="197.2" r="1.76" fill="url(#sd)"/>
<circle cx="116.1" cy="197.2" r="1.76" fill="url(#sd)"/>
<circle cx="96" cy="202.2" r="1.76" fill="url(#sd)"/>
<circle cx="149.3" cy="210.3" r="2.88" fill="url(#md)"/>
<circle cx="163" cy="231.5" r="2.24" fill="url(#sd)"/>
<circle cx="163" cy="241.6" r="1.92" fill="url(#sd)"/>
<circle cx="155.8" cy="254.5" r="2.24" fill="url(#sd)"/>
<circle cx="189.5" cy="263.9" r="1.95" fill="url(#md)"/>
<circle cx="181.6" cy="237.3" r="2.24" fill="url(#sd)"/>
<circle cx="176.6" cy="241.6" r="1.92" fill="url(#sd)"/>
<circle cx="187.4" cy="243" r="1.6" fill="url(#sd)"/>
<circle cx="182.4" cy="253.1" r="1.92" fill="url(#sd)"/>
<circle cx="178.8" cy="262.4" r="1.6" fill="url(#sd)"/>
<circle cx="163" cy="263.9" r="1.44" fill="url(#sd)"/>
<circle cx="156.5" cy="264.6" r="1.44" fill="url(#sd)"/>
<circle cx="166.6" cy="230.8" r="1.44" fill="url(#sd)"/>
<circle cx="180.2" cy="226.5" r="1.6" fill="url(#sd)"/>
<circle cx="158.6" cy="232.2" r="1.28" fill="url(#sd)"/>
<circle cx="157.9" cy="240.9" r="1.28" fill="url(#sd)"/>
<circle cx="152.9" cy="253.8" r="1.28" fill="url(#sd)"/>
<circle cx="166.6" cy="266" r="1.28" fill="url(#sd)"/>
<circle cx="159.4" cy="271" r="1.28" fill="url(#sd)"/>
<circle cx="186.7" cy="271" r="1.28" fill="url(#sd)"/>
<circle cx="191.7" cy="261" r="1.28" fill="url(#sd)"/>
<circle cx="74.67" cy="163.31" r="1.05" fill="url(#sd)" opacity="0.6"/>
<circle cx="30.68" cy="212.59" r="0.88" fill="url(#sd)" opacity="0.6"/>
<circle cx="28.15" cy="208.95" r="0.68" fill="url(#sd)" opacity="0.6"/>
<circle cx="93.89" cy="152.94" r="0.71" fill="url(#sd)" opacity="0.6"/>
<circle cx="92.29" cy="249.84" r="0.73" fill="url(#sd)" opacity="0.6"/>
<circle cx="57.07" cy="224.31" r="1.23" fill="url(#sd)" opacity="0.6"/>
<circle cx="118.99" cy="194.78" r="1.25" fill="url(#sd)" opacity="0.6"/>
<circle cx="26.15" cy="253.88" r="0.83" fill="url(#sd)" opacity="0.6"/>
<circle cx="43.24" cy="159.08" r="0.85" fill="url(#sd)" opacity="0.6"/>
<circle cx="119.78" cy="225.78" r="0.88" fill="url(#sd)" opacity="0.6"/>
<circle cx="113.86" cy="152.04" r="0.7" fill="url(#sd)" opacity="0.6"/>
<circle cx="54.04" cy="231.09" r="0.92" fill="url(#sd)" opacity="0.6"/>
<circle cx="72.98" cy="218.95" r="0.93" fill="url(#sd)" opacity="0.6"/>
<circle cx="70.46" cy="245.68" r="1.08" fill="url(#sd)" opacity="0.6"/>
<circle cx="60.72" cy="217.53" r="0.98" fill="url(#sd)" opacity="0.6"/>
<circle cx="171.15" cy="237.37" r="0.83" fill="url(#sd)" opacity="0.6"/>
<circle cx="91.17" cy="240.91" r="0.75" fill="url(#sd)" opacity="0.6"/>
<circle cx="103.57" cy="149.02" r="1.06" fill="url(#sd)" opacity="0.6"/>
<circle cx="139.68" cy="220.08" r="1.01" fill="url(#sd)" opacity="0.6"/>
<circle cx="97.84" cy="251.52" r="1.23" fill="url(#sd)" opacity="0.6"/>
<circle cx="100.97" cy="229.01" r="0.7" fill="url(#sd)" opacity="0.6"/>
<circle cx="140.76" cy="226.83" r="1.26" fill="url(#sd)" opacity="0.6"/>
<circle cx="85.51" cy="229.59" r="0.67" fill="url(#sd)" opacity="0.6"/>
<circle cx="98.8" cy="165.51" r="0.73" fill="url(#sd)" opacity="0.6"/>
<circle cx="28.32" cy="242.33" r="0.74" fill="url(#sd)" opacity="0.6"/>
<circle cx="61.33" cy="194.04" r="1.18" fill="url(#sd)" opacity="0.6"/>
<circle cx="32.1" cy="201.5" r="0.99" fill="url(#sd)" opacity="0.6"/>
<circle cx="172.59" cy="248.87" r="1.18" fill="url(#sd)" opacity="0.6"/>
<circle cx="66.72" cy="197.16" r="0.88" fill="url(#sd)" opacity="0.6"/>
<circle cx="172.73" cy="266.59" r="0.75" fill="url(#sd)" opacity="0.6"/>
<circle cx="48.84" cy="173.69" r="0.8" fill="url(#sd)" opacity="0.6"/>
<circle cx="102.87" cy="219.41" r="0.82" fill="url(#sd)" opacity="0.6"/>
<circle cx="18.72" cy="197.63" r="0.88" fill="url(#sd)" opacity="0.6"/>
<circle cx="117.11" cy="266" r="1.07" fill="url(#sd)" opacity="0.6"/>
<circle cx="108.21" cy="223.05" r="1.07" fill="url(#sd)" opacity="0.6"/>
<circle cx="27.45" cy="259.14" r="1.13" fill="url(#sd)" opacity="0.6"/>
<circle cx="171.04" cy="246.13" r="0.9" fill="url(#sd)" opacity="0.6"/>
<circle cx="87.82" cy="157.25" r="1.04" fill="url(#sd)" opacity="0.6"/>
<circle cx="28.89" cy="152.62" r="0.79" fill="url(#sd)" opacity="0.6"/>
<circle cx="46.4" cy="187.53" r="0.69" fill="url(#sd)" opacity="0.6"/>
<circle cx="18.04" cy="163.36" r="0.72" fill="url(#sd)" opacity="0.6"/>
<circle cx="81.63" cy="147.26" r="1.18" fill="url(#sd)" opacity="0.6"/>
<circle cx="125.46" cy="163.01" r="0.81" fill="url(#sd)" opacity="0.6"/>
<circle cx="78.79" cy="190.61" r="0.73" fill="url(#sd)" opacity="0.6"/>
<circle cx="166.56" cy="271.12" r="0.94" fill="url(#sd)" opacity="0.6"/>
<circle cx="102.67" cy="154.99" r="0.72" fill="url(#sd)" opacity="0.6"/>
<circle cx="77.96" cy="177.89" r="1.16" fill="url(#sd)" opacity="0.6"/>
<circle cx="46.25" cy="146.96" r="1.23" fill="url(#sd)" opacity="0.6"/>
<circle cx="110.45" cy="162.77" r="0.99" fill="url(#sd)" opacity="0.6"/>
<circle cx="22.73" cy="211.6" r="1.25" fill="url(#sd)" opacity="0.6"/>
<circle cx="169.08" cy="233.11" r="0.82" fill="url(#sd)" opacity="0.6"/>
<circle cx="82.17" cy="165.38" r="1.12" fill="url(#sd)" opacity="0.6"/>
<circle cx="111.2" cy="243.72" r="0.86" fill="url(#sd)" opacity="0.6"/>
<circle cx="57.03" cy="247.87" r="1.25" fill="url(#sd)" opacity="0.6"/>
<circle cx="167.21" cy="247.18" r="1.15" fill="url(#sd)" opacity="0.6"/>
<circle cx="147.48" cy="173.02" r="0.97" fill="url(#sd)" opacity="0.6"/>
<circle cx="80.22" cy="147.71" r="0.68" fill="url(#sd)" opacity="0.6"/>
<circle cx="66.9" cy="177.17" r="1.08" fill="url(#sd)" opacity="0.6"/>
<circle cx="181.98" cy="270.47" r="1.23" fill="url(#sd)" opacity="0.6"/>
<circle cx="81.81" cy="172.22" r="0.8" fill="url(#sd)" opacity="0.6"/>
<circle cx="52.42" cy="170.16" r="1.03" fill="url(#sd)" opacity="0.6"/>
<circle cx="175.55" cy="251.58" r="0.95" fill="url(#sd)" opacity="0.6"/>
<circle cx="132.27" cy="246.35" r="0.71" fill="url(#sd)" opacity="0.6"/>
<circle cx="133.6" cy="260.45" r="1.13" fill="url(#sd)" opacity="0.6"/>
<circle cx="49.24" cy="245.01" r="0.86" fill="url(#sd)" opacity="0.6"/>
<circle cx="158.14" cy="268.37" r="0.9" fill="url(#sd)" opacity="0.6"/>
<circle cx="88.24" cy="265.19" r="1.09" fill="url(#sd)" opacity="0.6"/>
<circle cx="47.75" cy="160.26" r="0.75" fill="url(#sd)" opacity="0.6"/>
<circle cx="176.35" cy="247.23" r="0.75" fill="url(#sd)" opacity="0.6"/>
<circle cx="162.64" cy="269.48" r="1.05" fill="url(#sd)" opacity="0.6"/>
<circle cx="79.32" cy="214.23" r="0.74" fill="url(#sd)" opacity="0.6"/>
<circle cx="20.49" cy="268.27" r="1.05" fill="url(#sd)" opacity="0.6"/>
<circle cx="110.15" cy="263.5" r="0.92" fill="url(#sd)" opacity="0.6"/>
<circle cx="170.56" cy="249.75" r="0.79" fill="url(#sd)" opacity="0.6"/>
<circle cx="62.07" cy="181.5" r="0.8" fill="url(#sd)" opacity="0.6"/>
<circle cx="120.63" cy="177.2" r="0.91" fill="url(#sd)" opacity="0.6"/>
<circle cx="40.94" cy="260.48" r="0.87" fill="url(#sd)" opacity="0.6"/>
<circle cx="98.18" cy="218.67" r="1.2" fill="url(#sd)" opacity="0.6"/>
<circle cx="91.61" cy="261.47" r="0.96" fill="url(#sd)" opacity="0.6"/>
<circle cx="111.07" cy="211.01" r="0.67" fill="url(#sd)" opacity="0.6"/>
<circle cx="95.02" cy="167.44" r="0.66" fill="url(#sd)" opacity="0.6"/>
<circle cx="100.86" cy="236.82" r="0.99" fill="url(#sd)" opacity="0.6"/>
<circle cx="75.05" cy="210.35" r="0.99" fill="url(#sd)" opacity="0.6"/>
<circle cx="116.05" cy="175.81" r="0.83" fill="url(#sd)" opacity="0.6"/>
<circle cx="116.3" cy="241.28" r="1.21" fill="url(#sd)" opacity="0.6"/>
<circle cx="95.57" cy="222.4" r="0.96" fill="url(#sd)" opacity="0.6"/>
<circle cx="107.63" cy="232.67" r="0.93" fill="url(#sd)" opacity="0.6"/>
<circle cx="111.32" cy="205.19" r="1.22" fill="url(#sd)" opacity="0.6"/>
<circle cx="140.36" cy="256.2" r="1.23" fill="url(#sd)" opacity="0.6"/>
<circle cx="63.43" cy="215.62" r="1.23" fill="url(#sd)" opacity="0.6"/>
<circle cx="39.28" cy="200.59" r="0.7" fill="url(#sd)" opacity="0.6"/>
<circle cx="60.11" cy="153.36" r="1.06" fill="url(#sd)" opacity="0.6"/>
<circle cx="155.19" cy="258.82" r="0.75" fill="url(#sd)" opacity="0.6"/>
<circle cx="143.32" cy="228.51" r="0.75" fill="url(#sd)" opacity="0.6"/>
<circle cx="172.5" cy="267.85" r="0.79" fill="url(#sd)" opacity="0.6"/>
<circle cx="103.27" cy="270.7" r="1.16" fill="url(#sd)" opacity="0.6"/>
<circle cx="46.26" cy="199.23" r="0.97" fill="url(#sd)" opacity="0.6"/>
<circle cx="77.35" cy="169.06" r="0.85" fill="url(#sd)" opacity="0.6"/>
<circle cx="144.38" cy="146.49" r="0.99" fill="url(#sd)" opacity="0.6"/>
<circle cx="95.08" cy="146.31" r="0.86" fill="url(#sd)" opacity="0.6"/>
<circle cx="127.19" cy="209.57" r="0.7" fill="url(#sd)" opacity="0.6"/>
<circle cx="190.39" cy="244.91" r="1.24" fill="url(#sd)" opacity="0.6"/>
<circle cx="36.34" cy="177.99" r="0.68" fill="url(#sd)" opacity="0.6"/>
<circle cx="40.67" cy="198.05" r="1.21" fill="url(#sd)" opacity="0.6"/>
<circle cx="44.14" cy="261.65" r="1" fill="url(#sd)" opacity="0.6"/>
<circle cx="140.57" cy="155.45" r="0.69" fill="url(#sd)" opacity="0.6"/>
<circle cx="138.44" cy="198.44" r="0.7" fill="url(#sd)" opacity="0.6"/>
<circle cx="182.21" cy="225.21" r="1.14" fill="url(#sd)" opacity="0.6"/>
<circle cx="32.65" cy="253.6" r="0.7" fill="url(#sd)" opacity="0.6"/>
<circle cx="77.35" cy="214.79" r="1.22" fill="url(#sd)" opacity="0.6"/>
<circle cx="64.88" cy="160.54" r="0.98" fill="url(#sd)" opacity="0.6"/>
<circle cx="59.73" cy="158.01" r="0.76" fill="url(#sd)" opacity="0.6"/>
<circle cx="26.82" cy="169.83" r="0.85" fill="url(#sd)" opacity="0.6"/>
<circle cx="71.38" cy="241.22" r="0.83" fill="url(#sd)" opacity="0.6"/>
<circle cx="105.52" cy="166.77" r="0.87" fill="url(#sd)" opacity="0.6"/>
<circle cx="21.18" cy="176.06" r="0.67" fill="url(#sd)" opacity="0.6"/>
<circle cx="146.29" cy="214.53" r="0.77" fill="url(#sd)" opacity="0.6"/>
<circle cx="101.08" cy="263.63" r="0.72" fill="url(#sd)" opacity="0.6"/>
<circle cx="104.63" cy="250.83" r="0.9" fill="url(#sd)" opacity="0.6"/>
<circle cx="106.67" cy="232.03" r="1.25" fill="url(#sd)" opacity="0.6"/>
<circle cx="77.97" cy="250.53" r="1.08" fill="url(#sd)" opacity="0.6"/>
<circle cx="129.3" cy="195.8" r="0.87" fill="url(#sd)" opacity="0.6"/>
<circle cx="27.52" cy="160.62" r="0.7" fill="url(#sd)" opacity="0.6"/>
<circle cx="147.66" cy="176.72" r="0.76" fill="url(#sd)" opacity="0.6"/>
<circle cx="32.78" cy="251.68" r="1.18" fill="url(#sd)" opacity="0.6"/>
<circle cx="135.35" cy="180.09" r="0.81" fill="url(#sd)" opacity="0.6"/>
<circle cx="69.29" cy="202.81" r="0.75" fill="url(#sd)" opacity="0.6"/>
<circle cx="96.02" cy="177.7" r="1.24" fill="url(#sd)" opacity="0.6"/>
<circle cx="60.78" cy="267.61" r="0.85" fill="url(#sd)" opacity="0.6"/>
<circle cx="80.4" cy="144.14" r="0.89" fill="url(#sd)" opacity="0.6"/>
<circle cx="101.06" cy="208.35" r="0.78" fill="url(#sd)" opacity="0.6"/>
<circle cx="106.33" cy="144.63" r="0.82" fill="url(#sd)" opacity="0.6"/>
<circle cx="33.71" cy="195.14" r="0.69" fill="url(#sd)" opacity="0.6"/>
<circle cx="21.94" cy="182.94" r="0.8" fill="url(#sd)" opacity="0.6"/>
<circle cx="120.48" cy="211.74" r="1.11" fill="url(#sd)" opacity="0.6"/>
<circle cx="133.07" cy="235.65" r="1.19" fill="url(#sd)" opacity="0.6"/>
<circle cx="86.17" cy="185.75" r="1.25" fill="url(#sd)" opacity="0.6"/>
<circle cx="44.16" cy="236.69" r="1.05" fill="url(#sd)" opacity="0.6"/>
<circle cx="25.66" cy="250.92" r="1.2" fill="url(#sd)" opacity="0.6"/>
<circle cx="127.78" cy="237.93" r="1.15" fill="url(#sd)" opacity="0.6"/>
<circle cx="42.38" cy="211.04" r="0.96" fill="url(#sd)" opacity="0.6"/>
<circle cx="164.11" cy="247" r="1.16" fill="url(#sd)" opacity="0.6"/>
<circle cx="120.21" cy="258.28" r="1.07" fill="url(#sd)" opacity="0.6"/>
<circle cx="139.33" cy="173.43" r="0.68" fill="url(#sd)" opacity="0.6"/>
<circle cx="41.29" cy="190.17" r="0.72" fill="url(#sd)" opacity="0.6"/>
<circle cx="127.86" cy="224.16" r="1.07" fill="url(#sd)" opacity="0.6"/>
<circle cx="103.63" cy="144.42" r="1.14" fill="url(#sd)" opacity="0.6"/>
<circle cx="111.66" cy="228.39" r="0.7" fill="url(#sd)" opacity="0.6"/>
<circle cx="146.94" cy="176.28" r="0.7" fill="url(#sd)" opacity="0.6"/>
<circle cx="64.47" cy="237.35" r="0.78" fill="url(#sd)" opacity="0.6"/>
<circle cx="147.47" cy="268.89" r="0.96" fill="url(#sd)" opacity="0.6"/>
</g>
<text x="23.8" y="263" textLength="17.4" lengthAdjust="spacingAndGlyphs" font-family="Liberation Sans" font-size="7.2" fill="#ff2a2a" stroke="#ff2a2a" stroke-width="0.3">20μm</text>
<rect x="28" y="264.7" width="8.9" height="0.9" fill="#ff2424"/>
<text x="199" y="267" textLength="17" lengthAdjust="spacingAndGlyphs" font-family="Liberation Sans" font-size="6.6" fill="#ff2a2a" stroke="#ff2a2a" stroke-width="0.3">20μm</text>
<rect x="202.6" y="268.8" width="8.9" height="0.9" fill="#ff2424"/>
<rect x="149.0" y="127.69999999999999" width="94.2" height="96.6" fill="#f4f4f8"/>
<rect x="149.5" y="128.2" width="45.3" height="95.6" fill="url(#blueL)"/>
<rect x="195.6" y="128.2" width="47.1" height="95.6" fill="url(#blueR)"/>
<path d="M155.3,166 Q155.3,158 158,156 L189,156 Q191.4,158 191.4,166 L191.4,216.5 Q191.4,223 185,223 L161.5,223 Q155.3,223 155.3,216.5 Z" fill="url(#milk)"/>
<path d="M157.3,143.5 Q157.3,140.6 160,140.6 L188.6,140.6 Q191.2,140.6 191.2,143.5 L191.2,156.2 L157.3,156.2 Z" fill="url(#cap)"/>
<rect x="157.3" y="140.6" width="33.9" height="15.6" fill="url(#ridge)"/>
<rect x="157.3" y="154.8" width="33.9" height="1.4" fill="#0c0c0c" opacity="0.8"/>
<path d="M201,165 Q201,157.5 203.5,155.6 L234.5,155.6 Q237,157.5 237,165 L237,214 Q237,220 231,220 L207,220 Q201,220 201,214 Z" fill="url(#clear)" stroke="#b8c8ec" stroke-width="0.8"/>
<rect x="202.2" y="158" width="2.2" height="58" fill="#c8d6f4" opacity="0.7"/>
<rect x="232.6" y="160" width="1.4" height="52" fill="#a8bce8" opacity="0.6"/>
<ellipse cx="219" cy="216" rx="15.5" ry="3" fill="#dce2f0" opacity="0.5"/>
<rect x="209" y="160" width="1" height="45" fill="#b0c4ee" opacity="0.35"/>
<path d="M202.6,143.2 Q202.6,140.4 205.4,140.4 L234.8,140.4 Q237.6,140.4 237.6,143.2 L237.6,156 L202.6,156 Z" fill="url(#cap)"/>
<rect x="202.6" y="140.4" width="35" height="15.6" fill="url(#ridge)"/>
<rect x="202.6" y="154.6" width="35" height="1.4" fill="#0c0c0c" opacity="0.8"/>
<text x="3.2" y="312.2" font-family="Liberation Serif" font-size="19" fill="#111" stroke="#111" stroke-width="0.3">(d)</text>
<rect x="61.7" y="357.9" width="14.6" height="154.3" fill="#008000"/>
<rect x="76.3" y="335.9" width="14.6" height="176.3" fill="#800080"/>
<line x1="69" y1="356.2" x2="69" y2="359.6" stroke="#111" stroke-width="0.8"/>
<line x1="66.7" y1="356.2" x2="71.3" y2="356.2" stroke="#111" stroke-width="0.8"/>
<line x1="66.7" y1="359.6" x2="71.3" y2="359.6" stroke="#111" stroke-width="0.8"/>
<line x1="83.6" y1="334.1" x2="83.6" y2="337.7" stroke="#111" stroke-width="0.8"/>
<line x1="81.3" y1="334.1" x2="85.9" y2="334.1" stroke="#111" stroke-width="0.8"/>
<line x1="81.3" y1="337.7" x2="85.9" y2="337.7" stroke="#111" stroke-width="0.8"/>
<rect x="120.25" y="358.6" width="14.6" height="153.6" fill="#008000"/>
<rect x="134.85" y="337.3" width="14.6" height="174.9" fill="#800080"/>
<line x1="127.55" y1="356.5" x2="127.55" y2="360.7" stroke="#111" stroke-width="0.8"/>
<line x1="125.25" y1="356.5" x2="129.85" y2="356.5" stroke="#111" stroke-width="0.8"/>
<line x1="125.25" y1="360.7" x2="129.85" y2="360.7" stroke="#111" stroke-width="0.8"/>
<line x1="142.15" y1="335.4" x2="142.15" y2="339.2" stroke="#111" stroke-width="0.8"/>
<line x1="139.85" y1="335.4" x2="144.45" y2="335.4" stroke="#111" stroke-width="0.8"/>
<line x1="139.85" y1="339.2" x2="144.45" y2="339.2" stroke="#111" stroke-width="0.8"/>
<rect x="178.8" y="358.2" width="14.6" height="154" fill="#008000"/>
<rect x="193.4" y="337.5" width="14.6" height="174.7" fill="#800080"/>
<line x1="186.1" y1="355.8" x2="186.1" y2="360.6" stroke="#111" stroke-width="0.8"/>
<line x1="183.8" y1="355.8" x2="188.4" y2="355.8" stroke="#111" stroke-width="0.8"/>
<line x1="183.8" y1="360.6" x2="188.4" y2="360.6" stroke="#111" stroke-width="0.8"/>
<line x1="200.7" y1="335.4" x2="200.7" y2="339.6" stroke="#111" stroke-width="0.8"/>
<line x1="198.4" y1="335.4" x2="203" y2="335.4" stroke="#111" stroke-width="0.8"/>
<line x1="198.4" y1="339.6" x2="203" y2="339.6" stroke="#111" stroke-width="0.8"/>
<rect x="237.35" y="358.2" width="14.6" height="154" fill="#008000"/>
<rect x="251.95" y="337" width="14.6" height="175.2" fill="#800080"/>
<line x1="244.65" y1="356.3" x2="244.65" y2="360.1" stroke="#111" stroke-width="0.8"/>
<line x1="242.35" y1="356.3" x2="246.95" y2="356.3" stroke="#111" stroke-width="0.8"/>
<line x1="242.35" y1="360.1" x2="246.95" y2="360.1" stroke="#111" stroke-width="0.8"/>
<line x1="259.25" y1="334.9" x2="259.25" y2="339.1" stroke="#111" stroke-width="0.8"/>
<line x1="256.95" y1="334.9" x2="261.55" y2="334.9" stroke="#111" stroke-width="0.8"/>
<line x1="256.95" y1="339.1" x2="261.55" y2="339.1" stroke="#111" stroke-width="0.8"/>
<rect x="295.9" y="357.6" width="14.6" height="154.6" fill="#008000"/>
<rect x="310.5" y="337.3" width="14.6" height="174.9" fill="#800080"/>
<line x1="303.2" y1="355.8" x2="303.2" y2="359.4" stroke="#111" stroke-width="0.8"/>
<line x1="300.9" y1="355.8" x2="305.5" y2="355.8" stroke="#111" stroke-width="0.8"/>
<line x1="300.9" y1="359.4" x2="305.5" y2="359.4" stroke="#111" stroke-width="0.8"/>
<line x1="317.8" y1="335" x2="317.8" y2="339.6" stroke="#111" stroke-width="0.8"/>
<line x1="315.5" y1="335" x2="320.1" y2="335" stroke="#111" stroke-width="0.8"/>
<line x1="315.5" y1="339.6" x2="320.1" y2="339.6" stroke="#111" stroke-width="0.8"/>
<rect x="47.3" y="296.6" width="292.8" height="215.6" fill="none" stroke="#1a1a1a" stroke-width="1.3"/>
<line x1="42.8" y1="512.2" x2="47.3" y2="512.2" stroke="#1a1a1a" stroke-width="1"/>
<text x="40.6" y="514.8" font-family="Liberation Serif" font-size="10" text-anchor="end" fill="#1a1a1a" stroke="#1a1a1a" stroke-width="0.15">500</text>
<line x1="44.8" y1="469.22" x2="47.3" y2="469.22" stroke="#1a1a1a" stroke-width="1"/>
<line x1="42.8" y1="426.24" x2="47.3" y2="426.24" stroke="#1a1a1a" stroke-width="1"/>
<text x="40.6" y="428.84" font-family="Liberation Serif" font-size="10" text-anchor="end" fill="#1a1a1a" stroke="#1a1a1a" stroke-width="0.15">600</text>
<line x1="44.8" y1="383.26" x2="47.3" y2="383.26" stroke="#1a1a1a" stroke-width="1"/>
<line x1="42.8" y1="340.28" x2="47.3" y2="340.28" stroke="#1a1a1a" stroke-width="1"/>
<text x="40.6" y="342.88" font-family="Liberation Serif" font-size="10" text-anchor="end" fill="#1a1a1a" stroke="#1a1a1a" stroke-width="0.15">700</text>
<line x1="335.6" y1="476.2" x2="340.1" y2="476.2" stroke="#1a1a1a" stroke-width="1"/>
<text x="345" y="478.9" font-family="Liberation Serif" font-size="10" fill="#1a1a1a" stroke="#1a1a1a" stroke-width="0.15">60</text>
<line x1="337.6" y1="440.2" x2="340.1" y2="440.2" stroke="#1a1a1a" stroke-width="1"/>
<line x1="335.6" y1="404.2" x2="340.1" y2="404.2" stroke="#1a1a1a" stroke-width="1"/>
<text x="345" y="406.9" font-family="Liberation Serif" font-size="10" fill="#1a1a1a" stroke="#1a1a1a" stroke-width="0.15">80</text>
<line x1="337.6" y1="368.2" x2="340.1" y2="368.2" stroke="#1a1a1a" stroke-width="1"/>
<line x1="335.6" y1="332.2" x2="340.1" y2="332.2" stroke="#1a1a1a" stroke-width="1"/>
<text x="345" y="334.9" font-family="Liberation Serif" font-size="10" fill="#1a1a1a" stroke="#1a1a1a" stroke-width="0.15">100</text>
<line x1="76.3" y1="512.2" x2="76.3" y2="516.4" stroke="#1a1a1a" stroke-width="1"/>
<text x="76.3" y="527.4" font-family="Liberation Serif" font-size="10" text-anchor="middle" fill="#1a1a1a" stroke="#1a1a1a" stroke-width="0.15">1</text>
<line x1="134.85" y1="512.2" x2="134.85" y2="516.4" stroke="#1a1a1a" stroke-width="1"/>
<text x="134.85" y="527.4" font-family="Liberation Serif" font-size="10" text-anchor="middle" fill="#1a1a1a" stroke="#1a1a1a" stroke-width="0.15">2</text>
<line x1="193.4" y1="512.2" x2="193.4" y2="516.4" stroke="#1a1a1a" stroke-width="1"/>
<text x="193.4" y="527.4" font-family="Liberation Serif" font-size="10" text-anchor="middle" fill="#1a1a1a" stroke="#1a1a1a" stroke-width="0.15">3</text>
<line x1="251.95" y1="512.2" x2="251.95" y2="516.4" stroke="#1a1a1a" stroke-width="1"/>
<text x="251.95" y="527.4" font-family="Liberation Serif" font-size="10" text-anchor="middle" fill="#1a1a1a" stroke="#1a1a1a" stroke-width="0.15">4</text>
<line x1="310.5" y1="512.2" x2="310.5" y2="516.4" stroke="#1a1a1a" stroke-width="1"/>
<text x="310.5" y="527.4" font-family="Liberation Serif" font-size="10" text-anchor="middle" fill="#1a1a1a" stroke="#1a1a1a" stroke-width="0.15">5</text>
<rect x="57" y="299.1" width="25.6" height="11.8" fill="#008000"/>
<text x="85.2" y="308.4" font-family="Liberation Serif" font-style="italic" font-size="11" fill="#222">J</text>
<text x="90.6" y="312.2" font-family="Liberation Serif" font-style="italic" font-size="6.8" fill="#222">p</text>
<rect x="100.4" y="299.1" width="25.8" height="11.8" fill="#800080"/>
<text x="129.6" y="308.4" font-family="Liberation Serif" font-style="italic" font-size="11" fill="#222">R</text>
<text x="195" y="545.7" font-family="Liberation Serif" font-size="11.55" text-anchor="middle" fill="#1a1a1a" stroke="#1a1a1a" stroke-width="0.12">Recycle Numbers</text>
<text transform="translate(16.4,480.8) rotate(-90)" textLength="135.5" lengthAdjust="spacingAndGlyphs" font-family="Liberation Serif" font-size="11.8" fill="#1a1a1a" stroke="#1a1a1a" stroke-width="0.12">Penetration Flux(<tspan font-style="italic">J</tspan><tspan font-style="italic" font-size="7" dy="3">p</tspan><tspan dy="-3">/L·m</tspan><tspan font-size="7.5" dy="-6.8">-2</tspan><tspan dy="6.8">·h</tspan><tspan font-size="7.5" dy="-6.8">-1</tspan><tspan dy="6.8">)</tspan></text>
<text transform="translate(372.4,478.7) rotate(-90)" textLength="134.4" lengthAdjust="spacingAndGlyphs" font-family="Liberation Serif" font-size="11.5" fill="#1a1a1a" stroke="#1a1a1a" stroke-width="0.08">Oil rejection efficiency(<tspan font-style="italic">R</tspan>/%)</text>
</svg>
</body></html>
